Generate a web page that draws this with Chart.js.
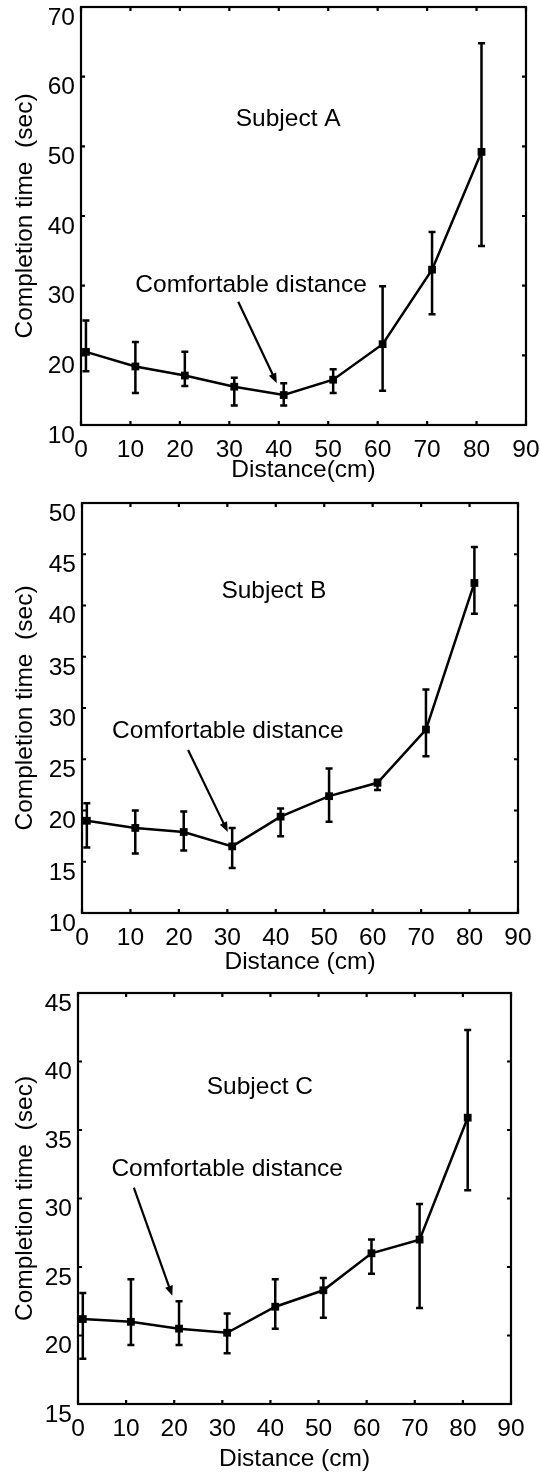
<!DOCTYPE html>
<html>
<head>
<meta charset="utf-8">
<script src="https://cdn.jsdelivr.net/npm/chart.js@4.4.1/dist/chart.umd.min.js"></script>
<style>
  body { margin: 0; background: #fff; }
  .panel { position: absolute; left: 0; width: 540px; }
</style>
</head>
<body>
<div class="panel" style="top:0;height:490px"><canvas id="chartA"></canvas></div>
<div class="panel" style="top:490px;height:490px"><canvas id="chartB"></canvas></div>
<div class="panel" style="top:980px;height:494px"><canvas id="chartC"></canvas></div>
<script>
// distance at which each trial was run (cm)
var distance = [1, 11, 21, 31, 41, 51, 61, 71, 81];

// Subject A: mean completion time and error bar ends (sec)
var timeA = [20.5, 18.4, 17.1, 15.5, 14.3, 16.5, 21.6, 32.3, 49.2];
var lowA  = [17.7, 14.6, 15.6, 12.8, 12.8, 14.6, 14.9, 25.9, 35.7];
var highA = [25.0, 21.9, 20.5, 16.8, 16.0, 18.0, 29.9, 37.7, 64.8];

// Subject B
var timeB = [19.0, 18.3, 17.9, 16.5, 19.4, 21.4, 22.7, 27.9, 42.2];
var lowB  = [16.4, 15.8, 16.1, 14.4, 17.5, 18.9, 22.0, 25.3, 39.2];
var highB = [20.7, 20.0, 19.9, 18.3, 20.2, 24.1, 23.0, 31.8, 45.7];

// Subject C
var timeC = [21.2, 21.0, 20.5, 20.2, 22.1, 23.3, 26.0, 27.0, 35.9];
var lowC  = [18.3, 19.3, 19.3, 18.7, 20.5, 21.3, 24.5, 22.0, 30.6];
var highC = [23.1, 24.1, 22.5, 21.6, 24.1, 24.2, 27.0, 29.6, 42.3];

var FONT = "'Liberation Sans', Arial, Helvetica, sans-serif";
var SIZE = 24.5;

// error bars, inward ticks, frame and text notes
var decorations = {
    id: 'decorations',
    afterDatasetsDraw: function (chart, args, opts) {
        var ctx = chart.ctx;
        var xs = chart.scales.x, ys = chart.scales.y;
        ctx.save();
        ctx.strokeStyle = '#000';
        ctx.lineWidth = 2.5;
        for (var i = 0; i < distance.length; i++) {
            var px = xs.getPixelForValue(distance[i]);
            var top = ys.getPixelForValue(opts.high[i]);
            var bot = ys.getPixelForValue(opts.low[i]);
            ctx.beginPath();
            ctx.moveTo(px, top); ctx.lineTo(px, bot);
            ctx.moveTo(px - 3.5, top); ctx.lineTo(px + 3.5, top);
            ctx.moveTo(px - 3.5, bot); ctx.lineTo(px + 3.5, bot);
            ctx.stroke();
        }
        ctx.restore();
    },
    afterDraw: function (chart, args, opts) {
        var ctx = chart.ctx;
        var a = chart.chartArea;
        var xs = chart.scales.x, ys = chart.scales.y;
        ctx.save();
        ctx.strokeStyle = '#000';
        ctx.lineWidth = 2.2;
        ctx.strokeRect(a.left, a.top, a.right - a.left, a.bottom - a.top);
        ctx.beginPath();
        xs.ticks.forEach(function (t) {
            var p = xs.getPixelForValue(t.value);
            ctx.moveTo(p, a.bottom); ctx.lineTo(p, a.bottom - 4);
            ctx.moveTo(p, a.top); ctx.lineTo(p, a.top + 4);
        });
        ys.ticks.forEach(function (t) {
            var p = ys.getPixelForValue(t.value);
            ctx.moveTo(a.left, p); ctx.lineTo(a.left + 4, p);
            ctx.moveTo(a.right, p); ctx.lineTo(a.right - 4, p);
        });
        ctx.stroke();

        ctx.fillStyle = '#000';
        ctx.font = SIZE + 'px ' + FONT;
        ctx.textAlign = 'center';
        ctx.textBaseline = 'middle';
        ctx.fillText(opts.subject, xs.getPixelForValue(opts.subjectAt[0]), ys.getPixelForValue(opts.subjectAt[1]));
        ctx.fillText('Comfortable distance', xs.getPixelForValue(opts.noteAt[0]), ys.getPixelForValue(opts.noteAt[1]));

        var x0 = xs.getPixelForValue(opts.arrow[0]), y0 = ys.getPixelForValue(opts.arrow[1]);
        var x1 = xs.getPixelForValue(opts.arrow[2]), y1 = ys.getPixelForValue(opts.arrow[3]);
        var ang = Math.atan2(y1 - y0, x1 - x0);
        ctx.lineWidth = 2.2;
        ctx.beginPath();
        ctx.moveTo(x0, y0);
        ctx.lineTo(x1 - 6 * Math.cos(ang), y1 - 6 * Math.sin(ang));
        ctx.stroke();
        ctx.beginPath();
        ctx.moveTo(x1, y1);
        ctx.lineTo(x1 - 10 * Math.cos(ang) + 4 * Math.sin(ang), y1 - 10 * Math.sin(ang) - 4 * Math.cos(ang));
        ctx.lineTo(x1 - 10 * Math.cos(ang) - 4 * Math.sin(ang), y1 - 10 * Math.sin(ang) + 4 * Math.cos(ang));
        ctx.closePath();
        ctx.fill();
        ctx.restore();
    }
};

function makeChart(id, p) {
    var points = distance.map(function (d, i) { return { x: d, y: p.values[i] }; });
    new Chart(document.getElementById(id), {
        type: 'line',
        data: {
            datasets: [{
                data: points,
                borderColor: '#000',
                borderWidth: 2.5,
                backgroundColor: '#000',
                pointStyle: 'rect',
                pointRadius: 5.5,
                pointBorderWidth: 0,
                tension: 0
            }]
        },
        plugins: [decorations],
        options: {
            responsive: true,
            maintainAspectRatio: false,
            animation: false,
            layout: { padding: { top: p.padTop, right: p.padRight, bottom: 0, left: 0 } },
            plugins: {
                legend: { display: false },
                tooltip: { enabled: false },
                decorations: {
                    low: p.low, high: p.high, subject: p.subject,
                    subjectAt: p.subjectAt, noteAt: p.noteAt, arrow: p.arrow
                }
            },
            scales: {
                x: {
                    type: 'linear', min: 0, max: 90,
                    grid: { display: false, drawTicks: false },
                    border: { display: false },
                    ticks: { stepSize: 10, padding: 11, color: '#000', font: { family: FONT, size: SIZE } },
                    title: { display: true, text: p.xTitle, color: '#000', padding: { top: 0, bottom: p.titlePad }, font: { family: FONT, size: SIZE } },
                    afterFit: function (s) { s.height = p.xHeight; s.paddingLeft = 0; s.paddingRight = 0; }
                },
                y: {
                    type: 'linear', min: p.yMin, max: p.yMax,
                    grid: { display: false, drawTicks: false },
                    border: { display: false },
                    ticks: { stepSize: p.yStep, padding: 6, labelOffset: 11, color: '#000', font: { family: FONT, size: SIZE } },
                    title: { display: true, text: 'Completion time  (sec)', color: '#000', padding: { top: 11, bottom: 0 }, font: { family: FONT, size: SIZE } },
                    afterFit: function (s) { s.width = p.yWidth; s.paddingTop = 0; s.paddingBottom = 0; }
                }
            }
        }
    });
}

makeChart('chartA', {
    values: timeA, low: lowA, high: highA, subject: 'Subject A', xTitle: 'Distance(cm)',
    yMin: 10, yMax: 70, yStep: 10,
    padTop: 7, padRight: 14, yWidth: 81, xHeight: 65, titlePad: 5,
    subjectAt: [41.9, 53.9], noteAt: [34.4, 30.1], arrow: [31.8, 27.7, 39.6, 16.0]
});
makeChart('chartB', {
    values: timeB, low: lowB, high: highB, subject: 'Subject B', xTitle: 'Distance (cm)',
    yMin: 10, yMax: 50, yStep: 5,
    padTop: 13, padRight: 22, yWidth: 82, xHeight: 67, titlePad: 3,
    subjectAt: [39.6, 41.4], noteAt: [30.1, 27.7], arrow: [21.9, 25.9, 30.1, 17.9]
});
makeChart('chartC', {
    values: timeC, low: lowC, high: highC, subject: 'Subject C', xTitle: 'Distance (cm)',
    yMin: 15, yMax: 45, yStep: 5,
    padTop: 13, padRight: 29, yWidth: 78, xHeight: 70, titlePad: 0,
    subjectAt: [37.8, 38.1], noteAt: [31.0, 32.1], arrow: [11.6, 30.8, 19.6, 22.9]
});
</script>
</body>
</html>
